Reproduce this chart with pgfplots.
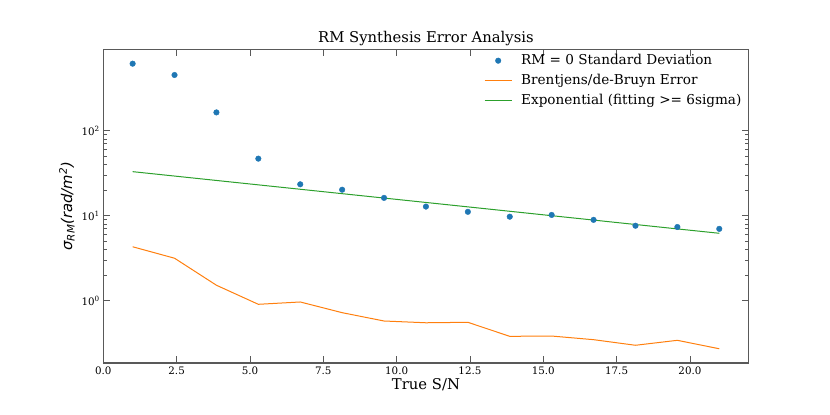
\documentclass[border=0pt]{standalone}
\usepackage{fontspec}
\setmainfont{DejaVu Serif}
\newfontfamily\dvs{DejaVu Sans}
\usepackage{pgfplots}
\pgfplotsset{compat=1.18}
\definecolor{tabblue}{HTML}{1F77B4}
\definecolor{taborange}{HTML}{FF7F0E}
\definecolor{tabgreen}{HTML}{2CA02C}
\begin{document}
\begin{tikzpicture}
\useasboundingbox (0,0) rectangle (830pt,415pt);
\begin{axis}[
  at={(103.3pt,52pt)}, anchor=south west,
  width=645.3pt, height=313.5pt, scale only axis,
  ymode=log,
  xmin=0, xmax=22,
  ymin=0.185, ymax=901.6,
  xtick={0,2.5,5,7.5,10,12.5,15,17.5,20},
  xticklabels={0.0,2.5,5.0,7.5,10.0,12.5,15.0,17.5,20.0},
  ytick={1,10,100},
  yticklabels={10\textsuperscript{0},10\textsuperscript{1},10\textsuperscript{2}},
  tick pos=both, tick align=inside,
  major tick length=7pt, minor tick length=4pt,
  every tick/.style={draw=black!65, line width=0.8pt},
  axis line style={draw=black!65, line width=1.2pt},
  ticklabel style={font=\fontsize{10.3}{12}\selectfont},
  xlabel={True S/N},
  xlabel style={font=\fontsize{14.8}{17}\selectfont, yshift=3pt},
  ylabel={{\dvs\itshape σ\textsubscript{RM}(rad/m\textsuperscript{2})}},
  ylabel style={font=\fontsize{14.8}{17}\selectfont},
  title={RM Synthesis Error Analysis},
  title style={font=\fontsize{14.8}{17}\selectfont, yshift=-6pt},
  legend cell align=left,
  legend image code/.code={\draw[mark repeat=2,mark phase=2,#1] plot coordinates {(0pt,0pt) (13.5pt,0pt) (27pt,0pt)};},
  legend style={at={(1,1)}, anchor=north east, xshift=-5pt, yshift=-1pt,
    draw=none, fill=none, inner sep=0pt, column sep=7pt, row sep=0pt,
    font=\fontsize{13.6}{16}\selectfont,
    nodes={inner sep=2pt, text height=12pt, text depth=4pt}},
]
\addplot[only marks, mark=*, mark size=2.8pt, draw=tabblue, fill=tabblue] coordinates {
(1,614) (2.4286,452) (3.8571,164) (5.2857,46.9) (6.7143,23.4) (8.1429,20.2)
(9.5714,16.2) (11,12.8) (12.4286,11.1) (13.8571,9.73) (15.2857,10.2)
(16.7143,8.93) (18.1429,7.62) (19.5714,7.36) (21,7.0)
};
\addlegendentry{RM = 0 Standard Deviation}
\addplot[taborange, line width=1pt] coordinates {
(1,4.31) (2.4286,3.16) (3.8571,1.52) (5.2857,0.907) (6.7143,0.966) (8.1429,0.723)
(9.5714,0.577) (11,0.55) (12.4286,0.557) (13.8571,0.381) (15.2857,0.384)
(16.7143,0.348) (18.1429,0.299) (19.5714,0.342) (21,0.272)
};
\addlegendentry{Brentjens/de-Bruyn Error}
\addplot[tabgreen, line width=1pt] coordinates {
(1,32.96) (2.4286,29.26) (3.8571,25.97) (5.2857,23.05) (6.7143,20.46) (8.1429,18.16)
(9.5714,16.12) (11,14.31) (12.4286,12.70) (13.8571,11.27) (15.2857,10.00)
(16.7143,8.88) (18.1429,7.88) (19.5714,6.99) (21,6.21)
};
\addlegendentry{Exponential (fitting >= 6sigma)}
\end{axis}
\end{tikzpicture}
\end{document}
